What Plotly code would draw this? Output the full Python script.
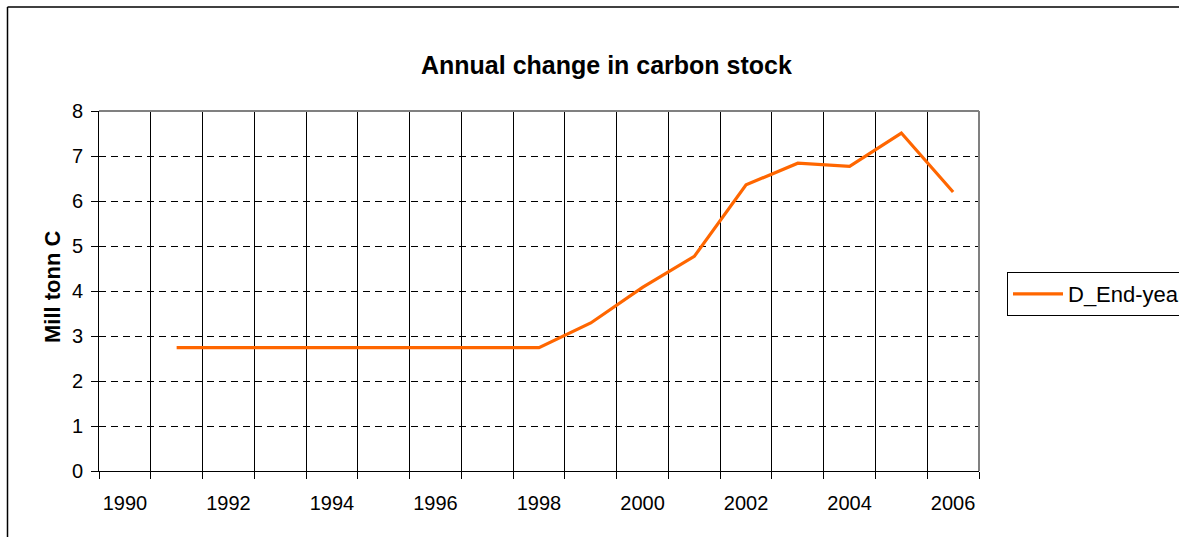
import plotly.graph_objects as go

# Annual change in carbon stock, million tonnes C
years = [1991, 1992, 1993, 1994, 1995, 1996, 1997, 1998,
         1999, 2000, 2001, 2002, 2003, 2004, 2005, 2006]
stock_change = [2.74, 2.74, 2.74, 2.74, 2.74, 2.74, 2.74, 2.74,
                3.29, 4.08, 4.77, 6.36, 6.84, 6.77, 7.51, 6.20]
label_years = [1990, 1992, 1994, 1996, 1998, 2000, 2002, 2004, 2006]
series_name = "D_End-year"

FONT = "Liberation Sans, Arial, sans-serif"
W, H = 1179, 537
ML, MR, MT, MB = 99, 200, 111, 66
PW, PH = W - ML - MR, H - MT - MB


def px_x(p):
    return (p - ML) / PW


def px_y(p):
    return (H - MB - p) / PH


fig = go.Figure()
fig.add_trace(go.Scatter(
    x=years, y=stock_change, mode="lines", name=series_name,
    line=dict(color="#FF6600", width=3.2),
))

fig.update_layout(
    width=W, height=H,
    margin=dict(l=ML, r=MR, t=MT, b=MB, autoexpand=False),
    paper_bgcolor="white", plot_bgcolor="white",
    font=dict(family=FONT, size=20, color="black"),
    showlegend=True,
    legend=dict(
        x=px_x(1007), y=px_y(272), xanchor="left", yanchor="top",
        bordercolor="black", borderwidth=1, bgcolor="white",
        font=dict(family=FONT, size=22, color="black"),
        itemwidth=50, tracegroupgap=0,
    ),
    xaxis=dict(
        range=[1989.5, 2006.5],
        tickmode="array", tickvals=label_years,
        ticktext=[str(y) for y in label_years],
        ticks="", showgrid=False, zeroline=False,
        showline=True, linecolor="black", linewidth=1,
        tickfont=dict(family=FONT, size=20, color="black"),
        ticklabelstandoff=14,
        minor=dict(tickmode="linear", tick0=1989.5, dtick=1,
                   ticks="outside", ticklen=7, tickcolor="black",
                   showgrid=True, gridcolor="black", gridwidth=1),
    ),
    yaxis=dict(
        range=[0, 8], dtick=1, tick0=0,
        ticks="outside", ticklen=7, tickcolor="black",
        showgrid=True, gridcolor="black", gridwidth=1,
        griddash="7px,5px", zeroline=False,
        showline=True, linecolor="black", linewidth=1,
        tickfont=dict(family=FONT, size=20, color="black"),
        ticklabelstandoff=4,
    ),
    shapes=[
        # plot area frame: top and right edges in grey
        dict(type="line", xref="paper", yref="paper", x0=0, x1=1, y0=1, y1=1,
             line=dict(color="#808080", width=2), layer="above"),
        dict(type="line", xref="paper", yref="paper", x0=1, x1=1, y0=0, y1=1,
             line=dict(color="#808080", width=2), layer="above"),
        # outer chart border (left and top edges)
        dict(type="line", xref="paper", yref="paper",
             x0=px_x(7.5), x1=px_x(7.5), y0=px_y(537), y1=px_y(7),
             line=dict(color="black", width=1.5), layer="below"),
        dict(type="line", xref="paper", yref="paper",
             x0=px_x(7.5), x1=px_x(1179), y0=px_y(7), y1=px_y(7),
             line=dict(color="black", width=1.5), layer="below"),
    ],
    annotations=[
        dict(text="<b>Annual change in carbon stock</b>", xref="paper", yref="paper",
             x=px_x(606), y=px_y(65), xanchor="center", yanchor="middle",
             showarrow=False, font=dict(family=FONT, size=25, color="black")),
        dict(text="<b>Mill tonn C</b>", xref="paper", yref="paper",
             x=px_x(52), y=px_y(287), xanchor="center", yanchor="middle",
             textangle=-90, showarrow=False,
             font=dict(family=FONT, size=22, color="black")),
    ],
)

fig.write_html("out.html")
